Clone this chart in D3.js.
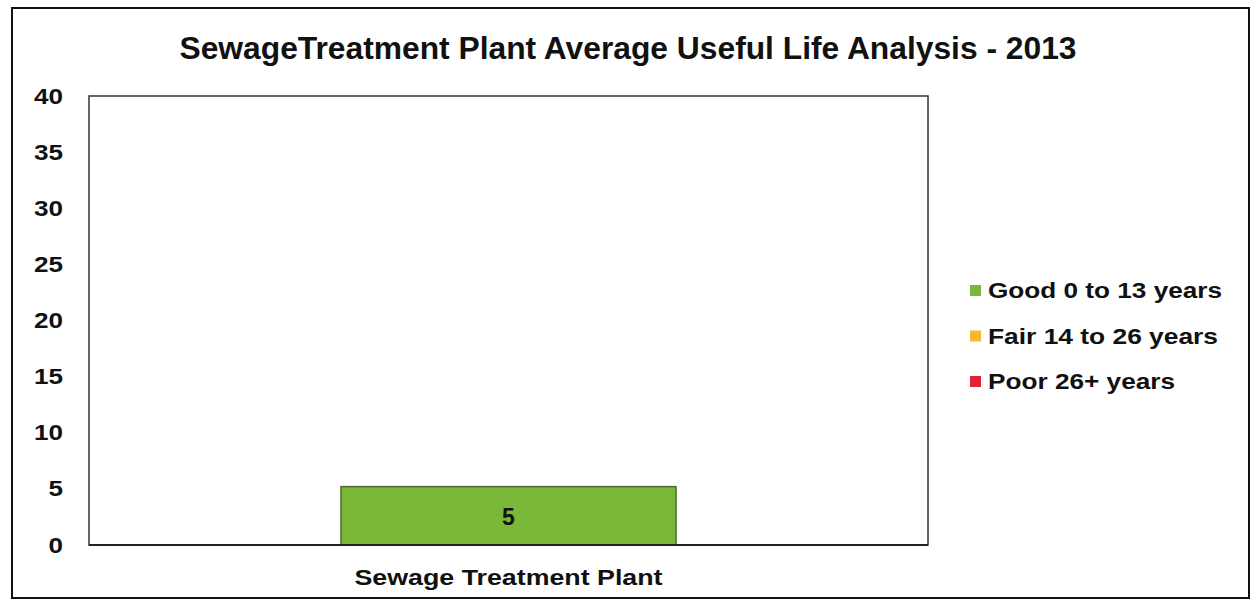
<!DOCTYPE html>
<html><head><meta charset="utf-8">
<script src="https://cdn.jsdelivr.net/npm/d3@7"></script>
<style>body{margin:0;background:#fff}svg{display:block}text{font-family:"Liberation Sans",Arial,sans-serif;font-weight:bold;fill:#111}</style>
</head><body>
<script>
const categories = ["Sewage Treatment Plant"];
const seriesNames = ["Good 0 to 13 years", "Fair 14 to 26 years", "Poor 26+ years"];
const seriesColors = ["#7ab83a", "#f5b82e", "#e0213a"];
const goodValues = [5.2];
const fairValues = [0];
const poorValues = [0];
const yTicks = [0, 5, 10, 15, 20, 25, 30, 35, 40];
const title = "SewageTreatment Plant Average Useful Life Analysis - 2013";

const W = 1254, H = 602;
const svg = d3.select("body").append("svg").attr("width", W).attr("height", H);

// outer frame
svg.append("rect").attr("x", 12).attr("y", 8).attr("width", 1237).attr("height", 590)
  .attr("fill", "none").attr("stroke", "#111").attr("stroke-width", 2);

svg.append("text").attr("x", 628).attr("y", 59).attr("text-anchor", "middle")
  .style("font-size", "32px").attr("textLength", 897).attr("lengthAdjust", "spacingAndGlyphs").text(title);

const m = {l: 89, r: 928, t: 96, b: 545};
const y = d3.scaleLinear().domain([0, 40]).range([m.b, m.t]);
const x = d3.scaleBand().domain(categories).range([m.l, m.r]).paddingInner(0.6).paddingOuter(0.3);

// plot area
svg.append("rect").attr("x", m.l).attr("y", m.t).attr("width", m.r - m.l).attr("height", m.b - m.t)
  .attr("fill", "#fff").attr("stroke", "#333").attr("stroke-width", 1.5);

const yAxis = svg.append("g").attr("transform", `translate(${m.l},0)`)
  .call(d3.axisLeft(y).tickValues(yTicks).tickSize(0).tickPadding(26));
yAxis.select(".domain").remove();
yAxis.selectAll("text").style("font-size", "22px").style("font-family", "Liberation Sans, Arial").style("font-weight", "bold").attr("fill", "#111")
  .attr("textLength", d => String(d).length * 14.5).attr("lengthAdjust", "spacingAndGlyphs");

// bars
const bw = 335;
categories.forEach((c, i) => {
  const cx = x(c) + x.bandwidth() / 2;
  const stack = [goodValues[i], fairValues[i], poorValues[i]];
  let acc = 0;
  stack.forEach((v, k) => {
    if (v > 0) {
      svg.append("rect").attr("x", cx - bw / 2).attr("y", y(acc + v)).attr("width", bw)
        .attr("height", y(acc) - y(acc + v)).attr("fill", seriesColors[k])
        .attr("stroke", "#4f6b2c").attr("stroke-width", 1.5);
      svg.append("text").attr("x", cx).attr("y", (y(acc) + y(acc + v)) / 2 + 9)
        .attr("text-anchor", "middle").style("font-size", "23px").text(d3.format(".0f")(v));
    }
    acc += v;
  });
  svg.append("text").attr("x", cx).attr("y", 585).attr("text-anchor", "middle")
    .style("font-size", "22px").attr("textLength", 308).attr("lengthAdjust", "spacingAndGlyphs").text(c);
});

// baseline
svg.append("line").attr("x1", m.l).attr("x2", m.r).attr("y1", y(0)).attr("y2", y(0))
  .attr("stroke", "#222").attr("stroke-width", 2);

// legend
const lg = svg.append("g");
const legendWidths = [234, 230, 187];
seriesNames.forEach((n, i) => {
  const yy = 290 + i * 45.5;
  lg.append("rect").attr("x", 970).attr("y", yy - 5).attr("width", 11).attr("height", 11).attr("fill", seriesColors[i]);
  lg.append("text").attr("x", 988).attr("y", yy + 8).style("font-size", "22px")
    .attr("textLength", legendWidths[i]).attr("lengthAdjust", "spacingAndGlyphs").text(n);
});
</script>
</body></html>
